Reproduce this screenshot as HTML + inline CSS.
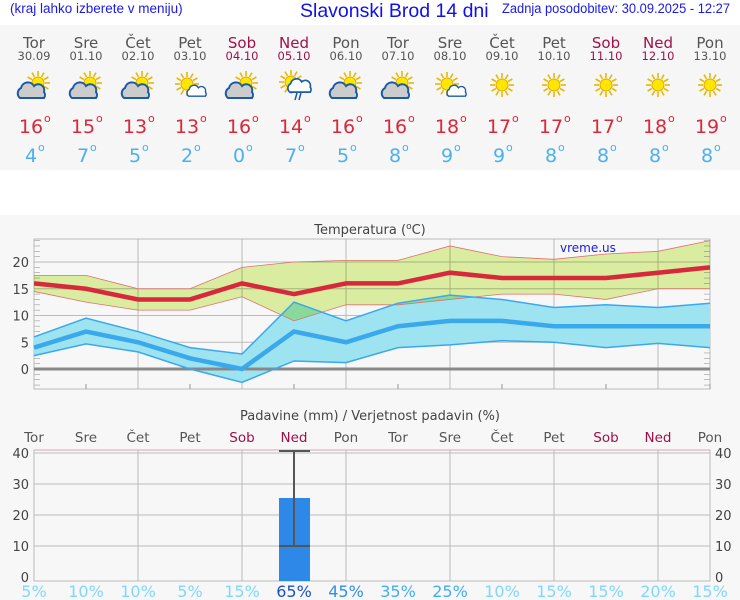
<!DOCTYPE html>
<html><head><meta charset="utf-8"><style>
body{margin:0;background:#fff;width:740px;height:600px;overflow:hidden;font-family:"DejaVu Sans","Liberation Sans",sans-serif}
svg{display:block}
</style></head><body>
<svg id="s" width="740" height="600" xmlns="http://www.w3.org/2000/svg">
<rect x="0" y="0" width="740" height="600" fill="#fff"/>
<rect x="0" y="25" width="740" height="145" fill="#f6f6f6"/>
<rect x="0" y="215" width="740" height="385" fill="#f7f7f7"/>
<text x="10" y="13" font-family="Liberation Sans" font-size="13.5" fill="#1a1ae6">(kraj lahko izberete v meniju)</text>
<text x="300" y="17" font-family="Liberation Sans" font-size="19.5" fill="#1010ee">Slavonski Brod 14 dni</text>
<text x="502" y="13" font-family="Liberation Sans" font-size="13.5" fill="#1a1ae6" textLength="228" lengthAdjust="spacingAndGlyphs">Zadnja posodobitev: 30.09.2025 - 12:27</text>
<g id="g"></g>
</svg>
<script>
const g=document.getElementById('g');let h='';
const X=i=>34+52*i;
const days=['Tor','Sre','Čet','Pet','Sob','Ned','Pon','Tor','Sre','Čet','Pet','Sob','Ned','Pon'];
const dates=['30.09','01.10','02.10','03.10','04.10','05.10','06.10','07.10','08.10','09.10','10.10','11.10','12.10','13.10'];
const hi=[16,15,13,13,16,14,16,16,18,17,17,17,18,19],lo=[4,7,5,2,0,7,5,8,9,9,8,8,8,8];
const wk=i=>(i%7==4||i%7==5);
const icon=['pc','pc','pc','ms','pc','rain','pc','pc','ms','s','s','s','s','s'];
function sun(cx,cy,r){let s='';for(let k=0;k<12;k++){const a=k*Math.PI/6;s+=`<line x1="${cx+Math.cos(a)*(r+1)}" y1="${cy+Math.sin(a)*(r+1)}" x2="${cx+Math.cos(a)*(r+6)}" y2="${cy+Math.sin(a)*(r+6)}" stroke="#e8b800" stroke-width="1.6"/>`;}return s+`<circle cx="${cx}" cy="${cy}" r="${r}" fill="#ffe600" stroke="#e0a800"/>`;}
function cloud(cx,cy,sc,f){return `<g transform="translate(${cx},${cy}) scale(${sc})"><path d="M-12,6 a6,6 0 0 1 1,-10 a7,7 0 0 1 13,-2 a6,6 0 0 1 10,6 a5,5 0 0 1 0,6 z" fill="${f}" stroke="#1a5aa8" stroke-width="2"/></g>`;}
for(let i=0;i<14;i++){const x=X(i),c=wk(i)?'#a0104a':'#555';
h+=`<text x="${x}" y="48" text-anchor="middle" font-size="15" fill="${c}">${days[i]}</text><text x="${x}" y="60" text-anchor="middle" font-size="11.5" fill="${c}">${dates[i]}</text>`;
const t=icon[i];
if(t=='s')h+=sun(x,85,6);
else if(t=='pc'){h+=sun(x+4,83,6)+cloud(x-2,92,1,'#ccc');}
else if(t=='ms'){h+=sun(x-3,84,6)+cloud(x+7,92,0.7,'#fff');}
else {h+=sun(x-3,82,6)+cloud(x+6,87,0.85,'#fff')+`<line x1="${x+3}" y1="93" x2="${x+1}" y2="100" stroke="#1a5aa8" stroke-width="1.5"/><line x1="${x+7}" y1="93" x2="${x+5}" y2="100" stroke="#1a5aa8" stroke-width="1.5"/>`;}
h+=`<text x="${x-3}" y="133" text-anchor="middle" font-size="19" fill="#d8283c">${hi[i]}</text><text x="${x+10}" y="122" font-size="11" fill="#d8283c">o</text>`;
h+=`<text x="${x-3}" y="162" text-anchor="middle" font-size="19" fill="#4ab0f0">${lo[i]}</text><text x="${x+4}" y="151" font-size="11" fill="#4ab0f0">o</text>`;}
const Y=v=>369-v*5.35;
h+=`<text x="370" y="234" text-anchor="middle" font-size="13" fill="#444">Temperatura (<tspan font-size="9" dy="-5">o</tspan><tspan dy="5">C)</tspan></text>`;
h+=`<rect x="34" y="239" width="676" height="150" fill="none" stroke="#bbb"/>`;
for(let v=-3;v<=24;v++){if(v%5)h+=`<line x1="34" x2="40" y1="${Y(v)}" y2="${Y(v)}" stroke="#999" stroke-width="0.6"/><line x1="704" x2="710" y1="${Y(v)}" y2="${Y(v)}" stroke="#999" stroke-width="0.6"/>`;}
for(let v=5;v<=20;v+=5)h+=`<line x1="34" x2="710" y1="${Y(v)}" y2="${Y(v)}" stroke="#bbb"/>`;
for(let v=0;v<=20;v+=5)h+=`<text x="29" y="${Y(v)+5}" text-anchor="end" font-size="13" fill="#444">${v}</text>`;
for(let i=0;i<14;i++){if(i%2==0)h+=`<line x1="${X(i)}" x2="${X(i)}" y1="239" y2="389" stroke="#bbb"/>`;else h+=`<line x1="${X(i)}" x2="${X(i)}" y1="384" y2="389" stroke="#999"/>`;}
const hT=[17.5,17.5,15,15,19,20,20.3,20.3,23,21,20.5,21.5,22,24],hB=[14.5,12.5,11,11,13.5,9,12,12,13,14,14,13,15,15];
const lT=[6,9.5,7,4,2.8,12.5,9,12.3,13.8,13,11.5,12,11.5,12.3],lB=[2.5,4.7,3.2,0,-2.5,1.5,1.2,4,4.5,5.3,5,4,4.8,4];
const pts=a=>a.map((v,i)=>X(i)+','+Y(v)).join(' ');
const band=(t,b)=>pts(t)+' '+b.map((v,i)=>[X(i),Y(v)]).reverse().map(p=>p.join(',')).join(' ');
h+=`<polygon points="${band(lT,lB)}" fill="#9de3f0"/>`;
h+=`<polygon points="${band(hT,hB)}" fill="#e0f4a4" style="mix-blend-mode:multiply"/>`;
h+=`<line x1="34" x2="710" y1="369" y2="369" stroke="#888" stroke-width="3"/>`;
h+=`<polyline points="${pts(hT)}" fill="none" stroke="#e07070" stroke-width="0.8"/><polyline points="${pts(hB)}" fill="none" stroke="#e07070" stroke-width="0.8"/>`;
h+=`<polyline points="${pts(lT)}" fill="none" stroke="#3aa8ec" stroke-width="1.5"/><polyline points="${pts(lB)}" fill="none" stroke="#3aa8ec" stroke-width="1.5"/>`;
h+=`<polyline points="${pts(hi)}" fill="none" stroke="#d8283c" stroke-width="4.5"/><polyline points="${pts(lo)}" fill="none" stroke="#3aa8ec" stroke-width="4.5"/>`;
h+=`<text x="560" y="252" font-size="12" fill="#1a1ae6">vreme.us</text>`;
h+=`<text x="370" y="420" text-anchor="middle" font-size="13" fill="#444">Padavine (mm) / Verjetnost padavin (%)</text>`;
const P=v=>577-v*3.1;
for(let i=0;i<14;i++){h+=`<text x="${X(i)}" y="442" text-anchor="middle" font-size="13.5" fill="${wk(i)?'#a0104a':'#555'}">${days[i]}</text>`;}
h+=`<rect x="34" y="450" width="676" height="131" fill="none" stroke="#bbb"/><line x1="34" x2="710" y1="450" y2="450" stroke="#e0a0b8"/>`;
for(let v=10;v<=40;v+=10)h+=`<line x1="34" x2="710" y1="${P(v)}" y2="${P(v)}" stroke="#bbb"/>`;
for(let v=0;v<=40;v+=10){h+=`<text x="29" y="${P(v)+5}" text-anchor="end" font-size="13" fill="#444">${v}</text><text x="715" y="${P(v)+5}" font-size="13" fill="#444">${v}</text>`;}
for(let i=0;i<14;i+=2)h+=`<line x1="${X(i)}" x2="${X(i)}" y1="450" y2="581" stroke="#bbb"/>`;
h+=`<rect x="279" y="498" width="31" height="83" fill="#2e88e8"/>`;
h+=`<line x1="294" x2="294" y1="451" y2="546" stroke="#555" stroke-width="2"/><line x1="279" x2="310" y1="451" y2="451" stroke="#555" stroke-width="2"/><line x1="279" x2="310" y1="546" y2="546" stroke="#555" stroke-width="2"/>`;
const pr=[5,10,10,5,15,65,45,35,25,10,15,15,20,15];
const pc=v=>v>=60?'#1a50c8':v>=40?'#3090e8':v>=25?'#40b0f0':'#80d8f8';
pr.forEach((v,i)=>h+=`<text x="${X(i)}" y="597" text-anchor="middle" font-size="16" fill="${pc(v)}">${v}%</text>`);
g.innerHTML=h;
</script>
</body></html>
